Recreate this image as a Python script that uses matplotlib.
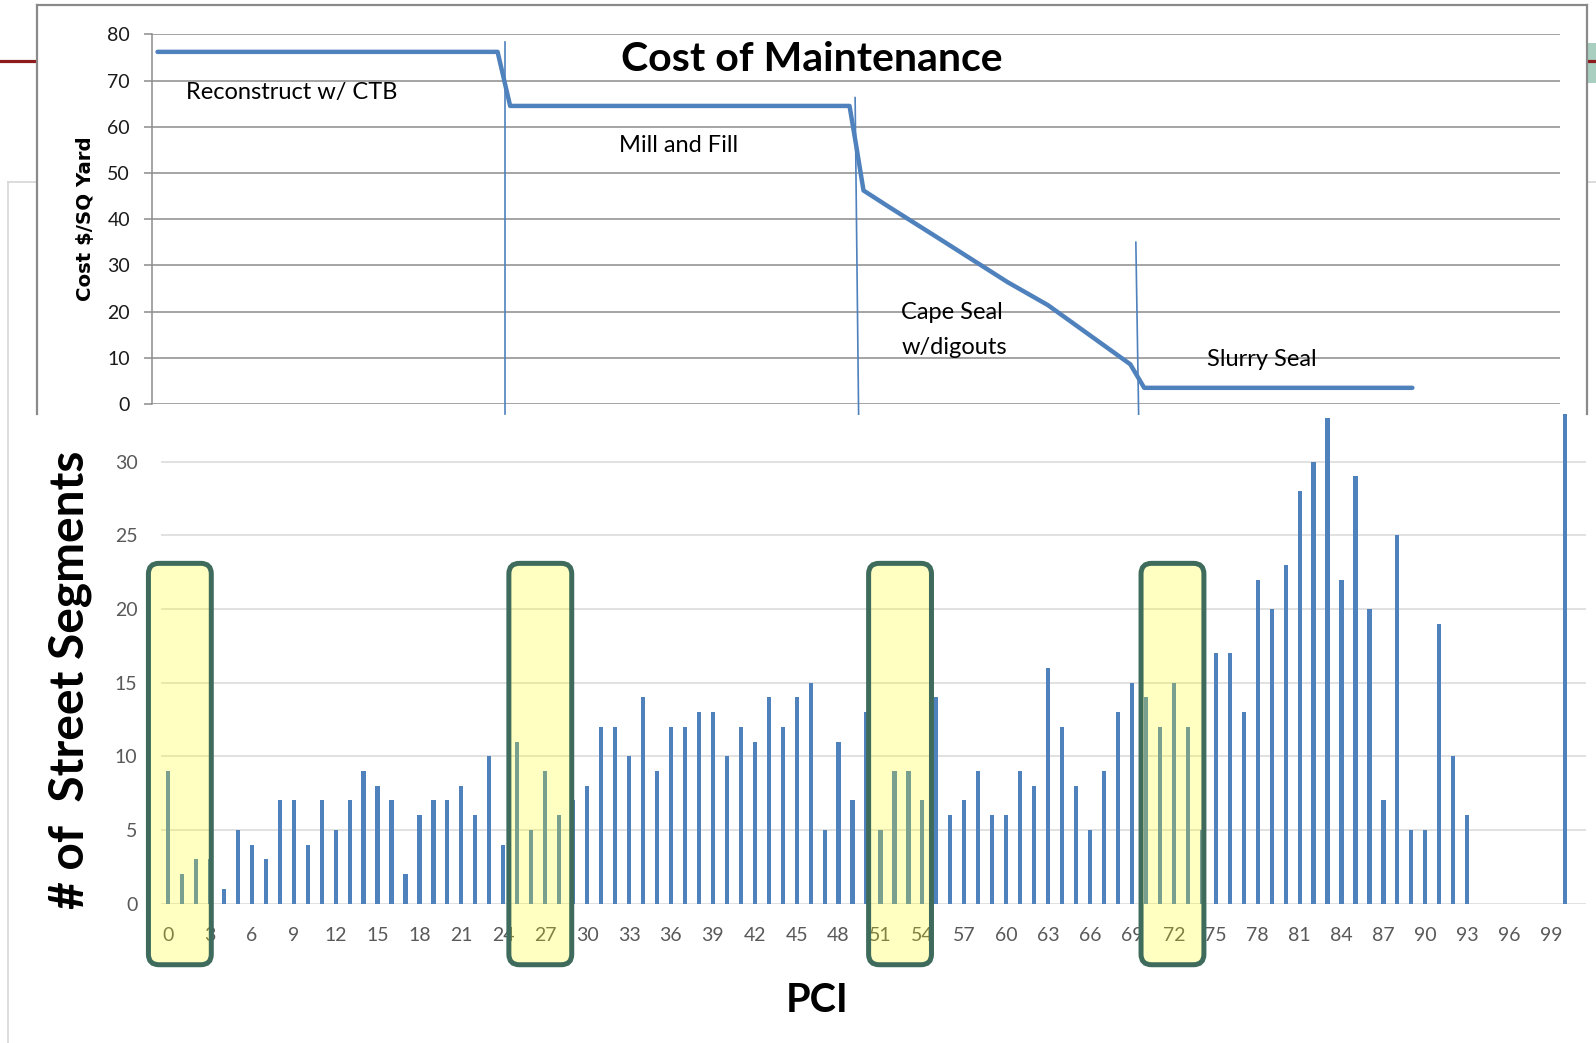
import matplotlib
matplotlib.use("Agg")
import matplotlib.pyplot as plt
from matplotlib.patches import FancyBboxPatch, Rectangle
from matplotlib.lines import Line2D

plt.rcParams['font.family'] = ['Lato', 'DejaVu Sans']

W, H = 1596, 1043

# ---------------- data ----------------
pci = list(range(0, 102))
segments = [9, 2, 3, 3, 1, 5, 4, 3, 7, 7,
            4, 7, 5, 7, 9, 8, 7, 2, 6, 7,
            7, 8, 6, 10, 4, 11, 5, 9, 6, 7,
            8, 12, 12, 10, 14, 9, 12, 12, 13, 13,
            10, 12, 11, 14, 12, 14, 15, 5, 11, 7,
            13, 5, 9, 9, 7, 14, 6, 7, 9, 6,
            6, 9, 8, 16, 12, 8, 5, 9, 13, 15,
            14, 12, 15, 12, 5, 17, 17, 13, 22, 20,
            23, 28, 30, 33, 22, 29, 20, 7, 25, 5,
            5, 19, 10, 6, 0, 0, 0, 0, 0, 0,
            34, 0]
x_tick_values = list(range(0, 100, 3))
y_tick_values_lower = [0, 5, 10, 15, 20, 25, 30]
y_tick_values_upper = [0, 10, 20, 30, 40, 50, 60, 70, 80]

cost_pci = [-0.75, 23.6, 24.5, 48.8, 49.3, 49.8, 51.7, 54.9, 60.1, 63.0, 68.9, 69.9, 89.1]
cost_val = [76.2, 76.2, 64.5, 64.5, 55.5, 46.2, 42.5, 36.4, 26.4, 21.4, 8.6, 3.5, 3.5]

bound_pci_top = [24.1, 49.2, 69.3]
bound_pci_bot = [24.1, 49.45, 69.5]
bound_val_top = [78.3, 66.3, 35.0]

treatments = ["Reconstruct w/ CTB", "Mill and Fill", "Cape Seal\nw/digouts", "Slurry Seal"]
treat_pci = [1.3, 32.3, 52.5, 74.4]
treat_val = [67.4, 55.9, 16.0, 9.6]

highlight_centers = [0.85, 26.65, 52.4, 71.9]

BLUE = '#4F81BD'


def fx(px):
    return px / W


def fy(py):
    return 1 - py / H


fig = plt.figure(figsize=(W / 100, H / 100), dpi=100)
fig.patch.set_facecolor('white')

# ---------------- background slide decorations ----------------
frame_kw = dict(color='#d6d6d6', lw=1.2, transform=fig.transFigure, zorder=0.5)
fig.add_artist(Line2D([fx(8), fx(8)], [fy(182), fy(1043)], **frame_kw))
fig.add_artist(Line2D([fx(8), fx(40)], [fy(182), fy(182)], **frame_kw))
fig.add_artist(Line2D([fx(1586), fx(1596)], [fy(182), fy(182)], **frame_kw))
fig.add_artist(Rectangle((fx(1588), fy(83)), fx(8), 40 / H, transform=fig.transFigure,
                         color='#A9CFC0', lw=0, zorder=0.5))
fig.add_artist(Line2D([fx(0), fx(40)], [fy(60.5), fy(60.5)], color='#8E1B1B', lw=2.3,
                      transform=fig.transFigure, zorder=0.6))
fig.add_artist(Line2D([fx(1586), fx(1596)], [fy(60.5), fy(60.5)], color='#8E1B1B', lw=2.3,
                      transform=fig.transFigure, zorder=0.6))

# ---------------- lower chart: bars ----------------
axL = fig.add_axes([fx(161), fy(903.6), (1586 - 161) / W, (903.6 - 414) / H])
axL.set_zorder(1)
axL.set_facecolor('none')
axL.bar(pci, segments, width=0.3, color=BLUE, zorder=3)
axL.set_xlim(-0.5, 101.5)
axL.set_ylim(0, 33.24)
axL.set_yticks(y_tick_values_lower)
axL.set_xticks(x_tick_values)
axL.set_xticklabels([str(v) for v in x_tick_values])
axL.tick_params(axis='both', length=0, labelsize=14, labelcolor='#595959')
axL.tick_params(axis='x', pad=16.5)
axL.tick_params(axis='y', pad=17)
for s in axL.spines.values():
    s.set_visible(False)
for v in y_tick_values_lower:
    axL.axhline(v, color='#d9d9d9', lw=1.1, zorder=1)
fig.text(fx(817), fy(1000), 'PCI', fontsize=28.5, fontweight='bold', color='black',
         ha='center', va='center')
fig.text(fx(70), fy(680), '# of  Street Segments', rotation=90, fontsize=34.5, fontweight='bold',
         ha='center', va='center', color='black')

# highlight boxes
bw = 4.5
for c in highlight_centers:
    box = FancyBboxPatch((c - bw / 2, -4.15), bw, 27.25,
                         boxstyle='round,pad=0,rounding_size=0.75', mutation_aspect=0.95,
                         transform=axL.transData, clip_on=False,
                         fc=(1, 1, 0, 0.245), ec='#3E6B5B', lw=3.6, zorder=6)
    axL.add_patch(box)

# ---------------- upper chart: cost of maintenance ----------------
fig.add_artist(Rectangle((fx(37), fy(414)), (1587 - 37) / W, (414 - 4) / H, transform=fig.transFigure,
                         fc='white', ec='none', zorder=2))
border_kw = dict(color='#8a8a8a', lw=1.6, transform=fig.transFigure, zorder=2.1)
fig.add_artist(Line2D([fx(37), fx(37)], [fy(414), fy(4.5)], **border_kw))
fig.add_artist(Line2D([fx(37), fx(1587)], [fy(4.5), fy(4.5)], **border_kw))
fig.add_artist(Line2D([fx(1587), fx(1587)], [fy(4.5), fy(414)], **border_kw))

axU = fig.add_axes([fx(151.5), fy(404), (1560 - 151.5) / W, (404 - 34.3) / H])
axU.set_zorder(3)
axU.set_facecolor('none')
axU.set_xlim(-1.18, 99.67)
axU.set_ylim(0, 80)
axU.set_yticks(y_tick_values_upper)
axU.set_xticks([])
for v in y_tick_values_upper:
    axU.axhline(v, color='#8c8c8c', lw=1.1, zorder=1)
for k, s in axU.spines.items():
    s.set_visible(k == 'left')
axU.spines['left'].set_color('#8c8c8c')
axU.spines['left'].set_linewidth(1.1)
axU.tick_params(axis='y', length=5.5, width=1.1, color='#8c8c8c', labelsize=14,
                labelcolor='#1a1a1a', pad=10)
axU.plot(cost_pci, cost_val, color=BLUE, lw=3.2, solid_capstyle='round',
         solid_joinstyle='round', zorder=4)
for xt, xb, yt in zip(bound_pci_top, bound_pci_bot, bound_val_top):
    axU.plot([xt, xb], [yt, -2.2], color=BLUE, lw=1.2, clip_on=False, zorder=4)
for t, xp, yv in zip(treatments, treat_pci, treat_val):
    axU.text(xp, yv, t, fontsize=17, ha='left', va='center', color='black',
             linespacing=1.8, zorder=5)
axU.text(46.1, 74.5, 'Cost of Maintenance', fontsize=29.5, fontweight='bold',
         ha='center', va='center', color='black', zorder=5)
fig.text(fx(85), fy(219), 'Cost $/SQ Yard', rotation=90, fontsize=14.2, fontweight='bold',
         family='DejaVu Sans', ha='center', va='center', color='black', zorder=5)

fig.savefig('out.png', dpi=100, facecolor='white')
